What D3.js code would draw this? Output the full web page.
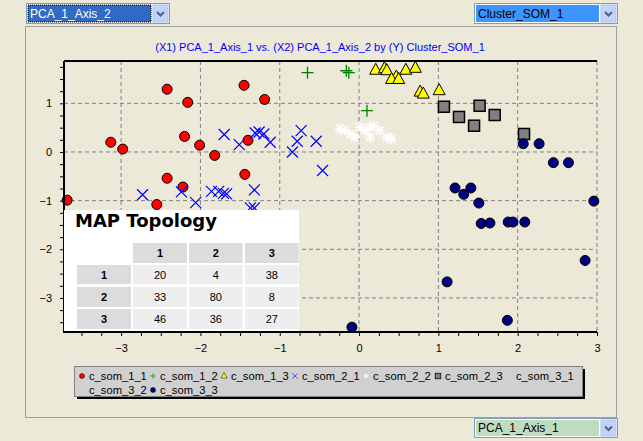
<!DOCTYPE html>
<html><head><meta charset="utf-8">
<script src="https://cdn.jsdelivr.net/npm/d3@7"></script>
<style>body{margin:0;background:#ECE9D8;font-family:"Liberation Sans",Arial,sans-serif}</style>
</head><body><svg id="c" width="643" height="441"></svg>
<script>
const xTicks=[-3,-2,-1,0,1,2,3], yTicks=[-3,-2,-1,0,1];
const som11=[[-2.42,1.29],[-1.45,1.37],[-2.16,1.02],[-1.19,1.08],[-3.13,0.20],[-2.98,0.06],[-2.20,0.32],[-2.01,0.14],[-1.82,-0.07],[-1.40,0.24],[-1.44,-0.46],[-2.42,-0.54],[-2.22,-0.72],[-3.68,-0.99],[-2.55,-1.08]];
const som12=[[-0.65,1.63],[-0.16,1.67],[-0.13,1.63],[0.10,0.85]];
const som13=[[0.21,1.68],[0.32,1.71],[0.35,1.67],[0.47,1.54],[0.41,1.49],[0.50,1.49],[0.59,1.68],[0.71,1.72],[0.77,1.23],[0.81,1.19],[1.01,1.26]];
const som21=[[-1.70,0.36],[-1.51,0.15],[-1.31,0.39],[-1.26,0.41],[-1.20,0.37],[-1.12,0.20],[-0.73,0.44],[-0.78,0.22],[-0.84,0.0],[-0.54,0.22],[-0.46,-0.38],[-2.73,-0.88],[-2.24,-0.82],[-2.06,-1.04],[-1.86,-0.81],[-1.77,-0.81],[-1.71,-0.85],[-1.67,-0.86],[-1.32,-0.78],[-1.37,-1.15],[-1.32,-1.15]];
const som22=[[-0.24,0.48],[-0.18,0.44],[-0.11,0.37],[-0.05,0.30],[0.01,0.51],[0.08,0.44],[0.14,0.51],[0.18,0.54],[0.14,0.30],[0.26,0.44],[0.35,0.30],[0.41,0.27]];
const som23=[[1.07,0.93],[1.26,0.72],[1.52,0.95],[1.71,0.76],[1.45,0.54],[2.08,0.37]];
const som31=[], som32=[];
const som33=[[2.07,0.17],[2.27,0.17],[2.45,-0.22],[2.64,-0.22],[1.21,-0.74],[1.32,-0.87],[1.41,-0.74],[1.51,-1.05],[2.96,-1.01],[1.54,-1.47],[1.65,-1.46],[1.88,-1.44],[1.94,-1.44],[2.09,-1.44],[2.85,-2.23],[1.11,-2.67],[1.87,-3.46],[-0.09,-3.60]];
const seriesNames=["c_som_1_1","c_som_1_2","c_som_1_3","c_som_2_1","c_som_2_2","c_som_2_3","c_som_3_1","c_som_3_2","c_som_3_3"];
const topoCols=["1","2","3"], topoRows=["1","2","3"];
const topoVals=[[20,4,38],[33,80,8],[46,36,27]];

const FONT="'Liberation Sans',Arial,sans-serif";
const series=[
 {n:seriesNames[0],d:som11,t:"circle",c:"#ff0000"},
 {n:seriesNames[1],d:som12,t:"plus",c:"#008000"},
 {n:seriesNames[2],d:som13,t:"tri",c:"#ffff00"},
 {n:seriesNames[3],d:som21,t:"x",c:"#0000ff"},
 {n:seriesNames[4],d:som22,t:"star",c:"#ffffff"},
 {n:seriesNames[5],d:som23,t:"sq",c:"#808080"},
 {n:seriesNames[6],d:som31,t:"none",c:"#000"},
 {n:seriesNames[7],d:som32,t:"none",c:"#000"},
 {n:seriesNames[8],d:som33,t:"circle",c:"#000080"}];

const svg=d3.select("#c").attr("font-family",FONT);
svg.append("rect").attr("x",25.5).attr("y",26.5).attr("width",591).attr("height",391).attr("fill","#ECE9D8").attr("stroke","#A0A0A0");
function dropdown(x,y,w,h,txt,bg,col,dotted){
 svg.append("rect").attr("x",x+.5).attr("y",y+.5).attr("width",w).attr("height",h).attr("fill","#fff").attr("stroke","#7F9DB9");
 svg.append("rect").attr("x",x+2).attr("y",y+2).attr("width",w-20).attr("height",h-3).attr("fill",bg).attr("stroke",dotted?"#000":"none").attr("stroke-dasharray",dotted?"1,1":null);
 svg.append("rect").attr("x",x+w-16).attr("y",y+2).attr("width",15).attr("height",h-3).attr("fill","#C1D3FB").attr("stroke","#B0C4EE");
 svg.append("path").attr("d",`M${x+w-12},${y+h/2-1}l3.5,3.5l3.5,-3.5`).attr("stroke","#4D6185").attr("stroke-width",2).attr("fill","none");
 svg.append("text").attr("x",x+4).attr("y",y+h/2+4.5).attr("font-size",12).attr("fill",col).text(txt);
}
dropdown(26,3,143,20,"PCA_1_Axis_2","#316AC5","#fff",true);
dropdown(474,3,143,20,"Cluster_SOM_1","#3D95FF","#000",false);
dropdown(474,418,143,19,"PCA_1_Axis_1","#C0DCC0","#000",false);

svg.append("text").attr("x",320).attr("y",51).attr("text-anchor","middle").attr("font-size",11).attr("fill","#0000ff").text("(X1) PCA_1_Axis_1 vs. (X2) PCA_1_Axis_2 by (Y) Cluster_SOM_1");

const L=64,R=597,T=61,B=332;
const x=d3.scaleLinear().domain([-3.72,3.0]).range([L,R]);
const y=d3.scaleLinear().domain([-3.70,1.87]).range([B,T]);
const g=svg.append("g");
g.selectAll(".gx").data(xTicks).join("line").attr("x1",d=>x(d)).attr("x2",d=>x(d)).attr("y1",T).attr("y2",B).attr("stroke","#808080").attr("stroke-dasharray","4,3");
g.selectAll(".gy").data(yTicks).join("line").attr("y1",d=>y(d)).attr("y2",d=>y(d)).attr("x1",L).attr("x2",R).attr("stroke","#808080").attr("stroke-dasharray","4,3");
const xa=svg.append("g").attr("transform",`translate(0,${B})`).call(d3.axisBottom(x).tickValues(d3.range(-3.5,3.01,0.25)).tickSize(4).tickFormat(""));
xa.select(".domain").remove();
svg.append("g").attr("transform",`translate(0,${B})`).call(d3.axisBottom(x).tickValues(xTicks).tickSize(0).tickPadding(12).tickFormat(d3.format("d"))).call(a=>{a.select(".domain").remove();a.selectAll("text").attr("font-size",11).attr("font-family",FONT)});
const ya=svg.append("g").attr("transform",`translate(${L},0)`).call(d3.axisLeft(y).tickValues(d3.range(-3.5,1.76,0.25)).tickSize(4).tickFormat(""));
ya.select(".domain").remove();
svg.append("g").attr("transform",`translate(${L},0)`).call(d3.axisLeft(y).tickValues(yTicks).tickSize(0).tickPadding(12).tickFormat(d3.format("d"))).call(a=>{a.select(".domain").remove();a.selectAll("text").attr("font-size",11).attr("font-family",FONT)});
svg.append("path").attr("d",`M${L},${T}V${B}H${R}`).attr("fill","none").attr("stroke","#000").attr("stroke-width",2);
svg.append("line").attr("x1",L).attr("x2",R).attr("y1",T).attr("y2",T).attr("stroke","#000").attr("stroke-width",2);

function mark(sel,t,c,s){
 if(t==="circle") sel.append("circle").attr("r",s||5).attr("fill",c).attr("stroke","#000").attr("stroke-width",1);
 else if(t==="plus") sel.append("path").attr("d","M-6,0H6M0,-6V6").attr("stroke",c).attr("stroke-width",1.3);
 else if(t==="x") sel.append("path").attr("d","M-5.5,-5.5L5.5,5.5M5.5,-5.5L-5.5,5.5").attr("stroke",c).attr("stroke-width",1.2);
 else if(t==="tri") sel.append("path").attr("d","M0,-7L6,4H-6Z").attr("fill",c).attr("stroke","#000");
 else if(t==="sq") sel.append("rect").attr("x",-5.5).attr("y",-5.5).attr("width",11).attr("height",11).attr("fill",c).attr("stroke","#000").attr("stroke-width",1.5);
 else if(t==="star") sel.append("path").attr("d","M-5,0H5M0,-5V5M-4,-4L4,4M4,-4L-4,4").attr("stroke",c).attr("stroke-width",1.5);
}
series.forEach(s=>{
 g.selectAll(null).data(s.d).join("g").attr("transform",d=>`translate(${x(d[0])},${y(d[1])})`).each(function(){mark(d3.select(this),s.t,s.c)});
});

const tb=svg.append("g");
tb.append("rect").attr("x",64).attr("y",210).attr("width",235).attr("height",121).attr("fill","#fff");
tb.append("text").attr("x",75).attr("y",227).attr("font-size",18).attr("font-weight","bold").attr("font-family","'DejaVu Sans',sans-serif").text("MAP Topology");
const cx=[133,189,245], cw=[54,53.5,53.6], ry=[265,287,309], rh=[19,20,20];
topoCols.forEach((c,i)=>{tb.append("rect").attr("x",cx[i]).attr("y",243).attr("width",cw[i]).attr("height",20).attr("fill","#DCDCDC");
 tb.append("text").attr("x",cx[i]+cw[i]/2).attr("y",257).attr("text-anchor","middle").attr("font-size",11).attr("font-weight","bold").text(c);});
topoRows.forEach((r,j)=>{tb.append("rect").attr("x",77).attr("y",ry[j]).attr("width",54).attr("height",rh[j]).attr("fill","#DCDCDC");
 tb.append("text").attr("x",104).attr("y",ry[j]+14).attr("text-anchor","middle").attr("font-size",11).attr("font-weight","bold").text(r);
 topoVals[j].forEach((v,i)=>{tb.append("rect").attr("x",cx[i]).attr("y",ry[j]).attr("width",cw[i]).attr("height",rh[j]).attr("fill","#EEEEEE");
  tb.append("text").attr("x",cx[i]+cw[i]/2).attr("y",ry[j]+14).attr("text-anchor","middle").attr("font-size",11).text(v);});
});

const lg=svg.append("g");
lg.append("rect").attr("x",77).attr("y",369).attr("width",508).attr("height",30).attr("fill","#000");
lg.append("rect").attr("x",74.5).attr("y",366.5).attr("width",508).attr("height",30).attr("fill","#D0D0D0").attr("stroke","#808080");
const lpos=[[82,380],[153,380],[224,380],[295,380],[366,380],[438,380],[509,380],[82,394],[153,394]];
series.forEach((s,i)=>{
 const [lx,ly]=lpos[i];
 const m=lg.append("g").attr("transform",`translate(${lx},${ly-4}) scale(0.5)`);
 mark(m,s.t,s.c,5);
 lg.append("text").attr("x",lx+7).attr("y",ly).attr("font-size",11.2).text(s.n);
});
</script></body></html>
